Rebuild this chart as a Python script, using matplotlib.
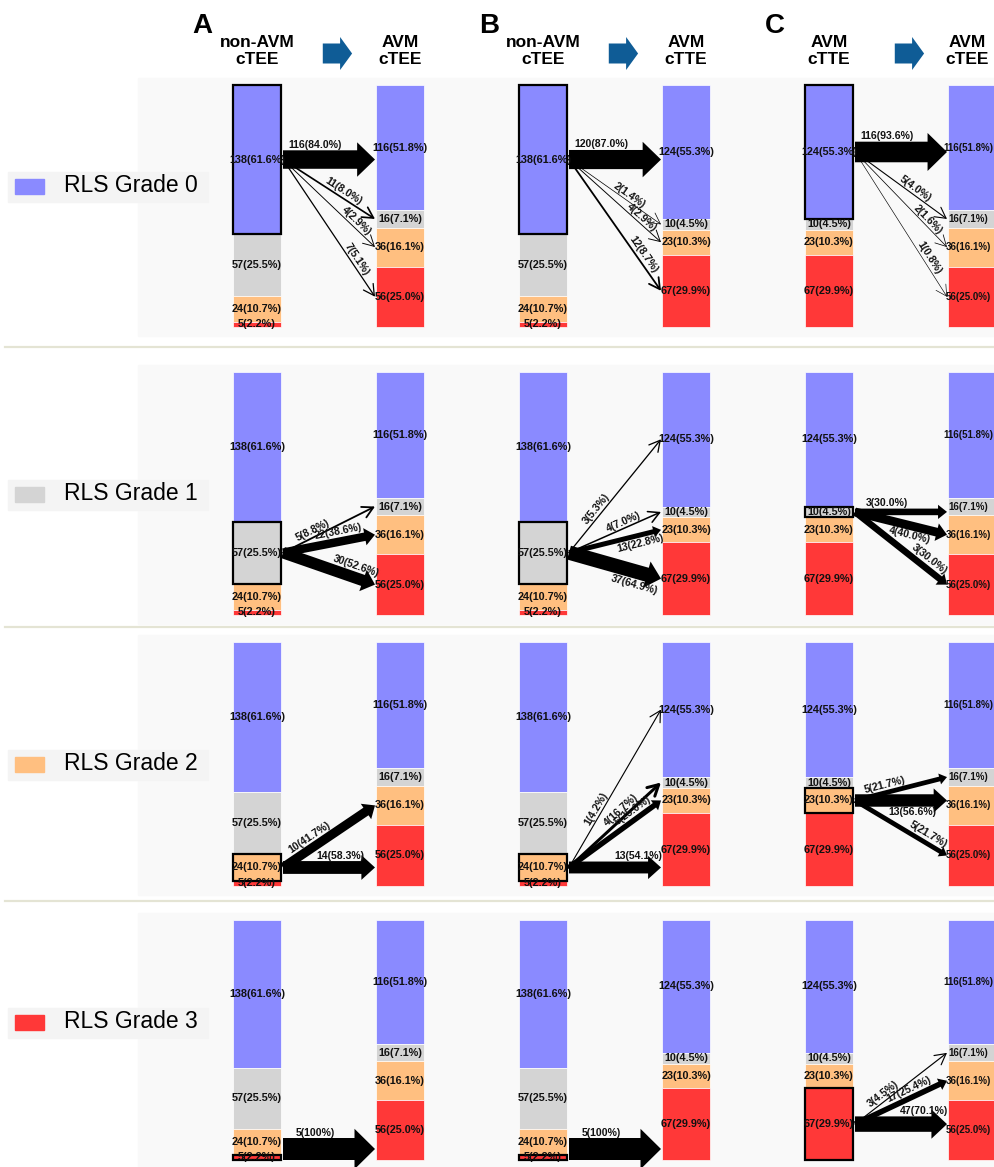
import numpy as np
import matplotlib
matplotlib.use("Agg")
import matplotlib.pyplot as plt
from matplotlib.patches import Rectangle, FancyArrowPatch, ArrowStyle
from matplotlib.lines import Line2D
from matplotlib.transforms import blended_transform_factory

plt.rcParams["font.family"] = ["Liberation Sans", "DejaVu Sans"]
NARROW = ["Liberation Sans Narrow", "Liberation Sans", "DejaVu Sans"]

# --- data ---
grades = ["RLS Grade 0", "RLS Grade 1", "RLS Grade 2", "RLS Grade 3"]
grade_colors = ["#8a8aff", "#d4d4d4", "#ffbf80", "#ff3838"]

panels = ["A", "B", "C"]
col_titles = ["non-AVM\ncTEE", "AVM\ncTEE", "non-AVM\ncTEE", "AVM\ncTTE", "AVM\ncTTE", "AVM\ncTEE"]

nonavm_ctee_n = [138, 57, 24, 5]
nonavm_ctee_pct = [61.6, 25.5, 10.7, 2.2]
avm_ctee_n = [116, 16, 36, 56]
avm_ctee_pct = [51.8, 7.1, 16.1, 25.0]
avm_ctte_n = [124, 10, 23, 67]
avm_ctte_pct = [55.3, 4.5, 10.3, 29.9]

columns = [
    (nonavm_ctee_n, nonavm_ctee_pct), (avm_ctee_n, avm_ctee_pct),
    (nonavm_ctee_n, nonavm_ctee_pct), (avm_ctte_n, avm_ctte_pct),
    (avm_ctte_n, avm_ctte_pct), (avm_ctee_n, avm_ctee_pct),
]

# flows per source grade: (target grade, n, pct)
flows_A = [
    [(0, 116, 84.0), (1, 11, 8.0), (2, 4, 2.9), (3, 7, 5.1)],
    [(1, 5, 8.8), (2, 22, 38.6), (3, 30, 52.6)],
    [(2, 10, 41.7), (3, 14, 58.3)],
    [(3, 5, 100)],
]
flows_B = [
    [(0, 120, 87.0), (1, 2, 1.4), (2, 4, 2.9), (3, 12, 8.7)],
    [(0, 3, 5.3), (1, 4, 7.0), (2, 13, 22.8), (3, 37, 64.9)],
    [(0, 1, 4.2), (1, 4, 16.7), (2, 6, 25.0), (3, 13, 54.1)],
    [(3, 5, 100)],
]
flows_C = [
    [(0, 116, 93.6), (1, 5, 4.0), (2, 2, 1.6), (3, 1, 0.8)],
    [(1, 3, 30.0), (2, 4, 40.0), (3, 3, 30.0)],
    [(1, 5, 21.7), (2, 13, 56.6), (3, 5, 21.7)],
    [(1, 3, 4.5), (2, 17, 25.4), (3, 47, 70.1)],
]
flows = [flows_A, flows_B, flows_C]

# labels drawn under the arrow instead of above: (panel, row, target grade)
labels_below = {(1, 1, 2), (1, 1, 3), (2, 1, 2), (2, 2, 2)}

# --- layout ---
W, H = 994, 1167
fig = plt.figure(figsize=(W / 100, H / 100), dpi=100)
PX2PT = 0.72


def fx(x):
    return x / W


def fy(y):
    return 1 - y / H


row_top = [85, 372, 642, 920]
row_bot = [327, 615, 886, 1160]
label_y = [186, 494, 764, 1022]
x0_px, dx_px = 257, 143
bar_w = 48 / dx_px
total = sum(nonavm_ctee_n)
x_right = (W - x0_px) / dx_px
x_text_max = x_right - 26 / dx_px

axes = []
for r in range(4):
    ax = fig.add_axes([0, fy(row_bot[r]), 1, (row_bot[r] - row_top[r]) / H])
    ax.set_xlim(-x0_px / dx_px, x_right)
    ax.set_ylim(total, 0)
    ax.axis("off")
    axes.append(ax)

# light backgrounds and separators
for r in range(4):
    fig.add_artist(Rectangle((fx(138), fy(row_bot[r] + 9)), fx(W - 138),
                             (row_bot[r] - row_top[r] + 16) / H,
                             transform=fig.transFigure, color="#f9f9f9", zorder=-2))
    fig.add_artist(Rectangle((fx(8), fy(label_y[r] + 16)), fx(200), 30 / H,
                             transform=fig.transFigure, color="#f4f4f4", zorder=-1))
    fig.add_artist(Rectangle((fx(15), fy(label_y[r] + 8)), fx(29), 15 / H,
                             transform=fig.transFigure, color=grade_colors[r], zorder=1))
    fig.text(fx(64), fy(label_y[r]), grades[r], fontsize=16.5, va="center", ha="left")
for r in range(3):
    ysep = (row_bot[r] + row_top[r + 1]) / 2 - 2
    fig.add_artist(Line2D([fx(5), 1], [fy(ysep), fy(ysep)], transform=fig.transFigure,
                          color="#e4e4d4", lw=1.6, zorder=-1))

# headers
ax0 = axes[0]
htrans = blended_transform_factory(ax0.transData, fig.transFigure)
for c, title in enumerate(col_titles):
    fig.text(min(c, x_right - 27 / dx_px), fy(51), title, transform=htrans, ha="center",
             va="center", fontsize=12.5, fontweight="bold", linespacing=1.15)
for p, letter in enumerate(panels):
    fig.text(2 * p - 0.45, fy(33), letter, transform=htrans, ha="left", va="baseline",
             fontsize=20, fontweight="bold")
    arr = FancyArrowPatch((2 * p + 0.46, fy(53.5)), (2 * p + 0.665, fy(53.5)),
                          transform=htrans,
                          arrowstyle=ArrowStyle.Simple(head_length=12 * PX2PT,
                                                       head_width=33 * PX2PT,
                                                       tail_width=20 * PX2PT),
                          mutation_scale=1, color="#0f5c96", lw=0, shrinkA=0, shrinkB=0)
    fig.add_artist(arr)


def bottoms_of(counts):
    return np.concatenate([[0], np.cumsum(counts)[:-1]])


# bars
for r, ax in enumerate(axes):
    for c, (counts, pcts) in enumerate(columns):
        bots = bottoms_of(counts)
        edge_col = c == len(columns) - 1
        for g in range(4):
            ax.bar(c, counts[g], bottom=bots[g], width=bar_w, color=grade_colors[g],
                   edgecolor="white", linewidth=0.5, clip_on=False)
            ax.text(min(c, x_text_max), bots[g] + counts[g] / 2,
                    f"{counts[g]}({pcts[g]:.1f}%)",
                    ha="center", va="center", fontsize=7.0 if edge_col else 7.8,
                    fontweight="bold", family=NARROW, color="#111111", zorder=5)
        if c % 2 == 0:
            ax.bar(c, counts[r], bottom=bots[r], width=bar_w, fill=False,
                   edgecolor="black", linewidth=1.6, clip_on=False, zorder=4)

# flow arrows
for r, ax in enumerate(axes):
    px_per_count = (row_bot[r] - row_top[r]) / total
    for p in range(3):
        src_n = columns[2 * p][0]
        tgt_n = columns[2 * p + 1][0]
        sb, tb = bottoms_of(src_n), bottoms_of(tgt_n)
        sy0 = sb[r] + src_n[r] / 2
        xs = 2 * p + bar_w / 2 + 2 / dx_px
        xt = 2 * p + 1 - bar_w / 2 - 1 / dx_px
        for k, (tg, n, pct) in enumerate(flows[p][r]):
            thick = pct >= 20
            width_px = 0.22 * pct if thick else 0.5 + 0.15 * pct
            lo, hi = tb[tg], tb[tg] + tgt_n[tg]
            m = 0.2 * (hi - lo)
            sy = sy0
            inside = lo + m <= sy0 <= hi - m
            if tg == r and lo <= sy0 <= hi:
                inside = True
            if inside:
                half_c = width_px / 2 / px_per_count
                sy = float(np.clip(sy0, lo + half_c, hi - half_c))
                ty = sy
            else:
                ty = (lo + hi) / 2
            if thick:
                hw = 1.7 * width_px + 3
                hl = 0.75 * width_px + 4
                style = ArrowStyle.Simple(head_length=hl * PX2PT, head_width=hw * PX2PT,
                                          tail_width=width_px * PX2PT)
                ax.annotate("", xy=(xt, ty), xytext=(xs, sy), annotation_clip=False,
                            arrowprops=dict(arrowstyle=style, mutation_scale=1, fc="black",
                                            ec="none", shrinkA=0, shrinkB=0))
            else:
                ax.annotate("", xy=(xt, ty), xytext=(xs, sy), annotation_clip=False,
                            arrowprops=dict(arrowstyle="->,head_length=0.55,head_width=0.3",
                                            mutation_scale=14, color="black",
                                            lw=width_px * PX2PT, shrinkA=0, shrinkB=0))
            frac = min(0.35 + 0.27 * k, 0.75)
            S = ax.transData.transform((xs, sy))
            T = ax.transData.transform((xt, ty))
            d = T - S
            u = d / np.hypot(*d)
            nrm = np.array([-u[1], u[0]])
            side = -1 if (p, r, tg) in labels_below else 1
            P = S + frac * d + side * nrm * (width_px / 2 + 5.5)
            lx, ly = ax.transData.inverted().transform(P)
            ang = np.degrees(np.arctan2(d[1], d[0]))
            lab = f"{n}({pct:.0f}%)" if pct == 100 else f"{n}({pct:.1f}%)"
            ax.text(lx, ly, lab, rotation=ang, rotation_mode="anchor", ha="center",
                    va="center", fontsize=7.6, fontweight="bold", family=NARROW,
                    color="#111111", zorder=6)

fig.savefig("out.png", dpi=100)
